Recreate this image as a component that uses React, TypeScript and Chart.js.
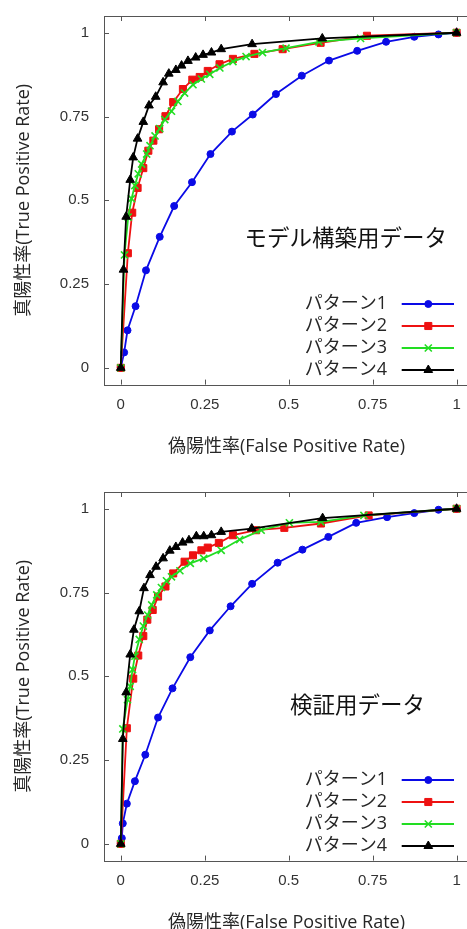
import React, { useEffect, useRef } from "react";
import { Chart, registerables } from "chart.js";
import { drawPoint } from "chart.js/helpers";

Chart.register(...registerables);

// ---------- text ----------
const seriesNames = ["パターン1", "パターン2", "パターン3", "パターン4"];
const xTitle = "偽陽性率(False Positive Rate)";
const yTitle = "真陽性率(True Positive Rate)";
const panelTitles = ["モデル構築用データ", "検証用データ"];

// ---------- ticks ----------
const xTicks = [0, 0.25, 0.5, 0.75, 1];
const yTicks = [0, 0.25, 0.5, 0.75, 1];

// ---------- panel 1: モデル構築用データ ----------
const p1Pattern1X = [0, 0.010, 0.020, 0.044, 0.075, 0.116, 0.159, 0.212, 0.267, 0.331, 0.393, 0.462, 0.539, 0.620, 0.704, 0.790, 0.874, 0.946, 1];
const p1Pattern1Y = [0, 0.046, 0.112, 0.184, 0.291, 0.391, 0.483, 0.554, 0.638, 0.705, 0.756, 0.817, 0.872, 0.917, 0.946, 0.973, 0.988, 0.995, 1];

const p1Pattern2X = [0, 0.021, 0.034, 0.050, 0.067, 0.082, 0.097, 0.114, 0.133, 0.156, 0.185, 0.213, 0.235, 0.259, 0.294, 0.334, 0.398, 0.482, 0.595, 0.733, 1];
const p1Pattern2Y = [0, 0.342, 0.463, 0.537, 0.596, 0.648, 0.678, 0.712, 0.751, 0.793, 0.832, 0.860, 0.868, 0.886, 0.906, 0.922, 0.937, 0.951, 0.970, 0.991, 1];

const p1Pattern3X = [0, 0.011, 0.022, 0.032, 0.042, 0.052, 0.062, 0.077, 0.087, 0.102, 0.116, 0.131, 0.151, 0.170, 0.190, 0.215, 0.240, 0.265, 0.295, 0.334, 0.373, 0.422, 0.492, 0.590, 0.714, 1];
const p1Pattern3Y = [0, 0.337, 0.450, 0.505, 0.544, 0.579, 0.608, 0.638, 0.663, 0.692, 0.714, 0.741, 0.766, 0.795, 0.820, 0.845, 0.862, 0.876, 0.895, 0.914, 0.929, 0.941, 0.954, 0.973, 0.983, 1];

const p1Pattern4X = [0, 0.008, 0.016, 0.028, 0.037, 0.050, 0.067, 0.084, 0.104, 0.126, 0.143, 0.164, 0.181, 0.200, 0.223, 0.245, 0.270, 0.299, 0.391, 0.600, 1];
const p1Pattern4Y = [0, 0.293, 0.451, 0.561, 0.628, 0.684, 0.734, 0.783, 0.809, 0.852, 0.878, 0.889, 0.902, 0.916, 0.926, 0.934, 0.941, 0.951, 0.966, 0.983, 1];

// ---------- panel 2: 検証用データ ----------
const p2Pattern1X = [0, 0.003, 0.006, 0.018, 0.042, 0.073, 0.111, 0.154, 0.207, 0.265, 0.327, 0.391, 0.467, 0.541, 0.618, 0.701, 0.793, 0.874, 0.946, 1];
const p2Pattern1Y = [0, 0.017, 0.061, 0.120, 0.187, 0.266, 0.377, 0.464, 0.557, 0.637, 0.709, 0.776, 0.839, 0.878, 0.916, 0.958, 0.975, 0.987, 0.997, 1];

const p2Pattern2X = [0, 0.018, 0.037, 0.052, 0.067, 0.079, 0.095, 0.111, 0.133, 0.156, 0.190, 0.215, 0.240, 0.259, 0.292, 0.334, 0.403, 0.487, 0.596, 0.738, 1];
const p2Pattern2Y = [0, 0.345, 0.493, 0.562, 0.620, 0.669, 0.698, 0.738, 0.768, 0.807, 0.842, 0.861, 0.876, 0.884, 0.898, 0.921, 0.936, 0.943, 0.956, 0.980, 1];

const p2Pattern3X = [0, 0.006, 0.020, 0.028, 0.035, 0.042, 0.055, 0.067, 0.080, 0.092, 0.107, 0.121, 0.136, 0.151, 0.176, 0.207, 0.247, 0.299, 0.354, 0.418, 0.502, 0.596, 0.724, 1];
const p2Pattern3Y = [0, 0.343, 0.430, 0.470, 0.520, 0.560, 0.610, 0.650, 0.683, 0.713, 0.743, 0.765, 0.785, 0.797, 0.815, 0.837, 0.852, 0.876, 0.908, 0.936, 0.958, 0.961, 0.980, 1];

const p2Pattern4X = [0, 0.006, 0.016, 0.028, 0.039, 0.055, 0.069, 0.087, 0.105, 0.126, 0.146, 0.164, 0.184, 0.203, 0.225, 0.247, 0.270, 0.299, 0.390, 0.601, 1];
const p2Pattern4Y = [0, 0.313, 0.452, 0.565, 0.639, 0.694, 0.763, 0.802, 0.827, 0.852, 0.875, 0.886, 0.899, 0.906, 0.918, 0.918, 0.921, 0.931, 0.941, 0.972, 1];

const panel1 = [
  { x: p1Pattern1X, y: p1Pattern1Y },
  { x: p1Pattern2X, y: p1Pattern2Y },
  { x: p1Pattern3X, y: p1Pattern3Y },
  { x: p1Pattern4X, y: p1Pattern4Y },
];
const panel2 = [
  { x: p2Pattern1X, y: p2Pattern1Y },
  { x: p2Pattern2X, y: p2Pattern2Y },
  { x: p2Pattern3X, y: p2Pattern3Y },
  { x: p2Pattern4X, y: p2Pattern4Y },
];

// ---------- styles ----------
const TEXT_FONT = '"Open Sans", "Noto Sans CJK JP", sans-serif';
const TICK_FONT = '"Liberation Sans", Arial, sans-serif';
const FRAME_COLOR = "#555555";
const TEXT_COLOR = "#262626";

const seriesStyles = [
  { color: "#0a0ae6", pointStyle: "circle", radius: 3.5, order: 3, lineWidth: 1.8, pointBorderWidth: 1 },
  { color: "#ee1111", pointStyle: "rect", radius: 5, order: 2, lineWidth: 1.8, pointBorderWidth: 1 },
  { color: "#22dd22", pointStyle: "crossRot", radius: 5, order: 1, lineWidth: 1.8, pointBorderWidth: 1.6 },
  { color: "#000000", pointStyle: "triangle", radius: 5, order: 0, lineWidth: 1.8, pointBorderWidth: 1 },
];

const CANVAS_W = 480;
const PLOT_TOP = 13;
const PLOT_H = 371.6;
const PLOT_LEFT = 104;
const PLOT_RIGHT = 475.4;

type PanelProps = {
  series: { x: number[]; y: number[] }[];
  title: string;
  titleX: number;
  titleY: number;
  height: number;
};

function RocPanel({ series, title, titleX, titleY, height }: PanelProps) {
  const ref = useRef<HTMLCanvasElement>(null);

  useEffect(() => {
    const canvas = ref.current;
    if (!canvas) return;

    const datasets = series.map((s, i) => {
      const st = seriesStyles[i];
      return {
        label: seriesNames[i],
        data: s.x.map((x, j) => ({ x, y: s.y[j] })),
        showLine: true,
        borderColor: st.color,
        backgroundColor: st.color,
        pointBackgroundColor: st.color,
        pointBorderColor: st.color,
        pointStyle: st.pointStyle as any,
        pointRadius: st.radius,
        pointBorderWidth: st.pointBorderWidth,
        borderWidth: st.lineWidth,
        order: st.order,
        tension: 0,
        clip: false as any,
      };
    });

    const framePlugin = {
      id: "gnuplotFrame",
      afterDatasetsDraw(chart: any) {
        const { ctx, chartArea } = chart;
        const { left, right, top, bottom } = chartArea;
        const xs = chart.scales.x;
        const ys = chart.scales.y;
        ctx.save();
        // frame
        ctx.strokeStyle = FRAME_COLOR;
        ctx.lineWidth = 1;
        ctx.strokeRect(Math.round(left) + 0.5, Math.round(top) + 0.5, Math.round(right - left), Math.round(bottom - top));
        // inward ticks
        const TL = 5;
        ctx.beginPath();
        xTicks.forEach((v) => {
          const px = Math.round(xs.getPixelForValue(v)) + 0.5;
          ctx.moveTo(px, bottom);
          ctx.lineTo(px, bottom - TL);
          ctx.moveTo(px, top);
          ctx.lineTo(px, top + TL);
        });
        yTicks.forEach((v) => {
          const py = Math.round(ys.getPixelForValue(v)) + 0.5;
          ctx.moveTo(left, py);
          ctx.lineTo(left + TL, py);
          ctx.moveTo(right, py);
          ctx.lineTo(right - TL, py);
        });
        ctx.stroke();

        // axis titles
        ctx.fillStyle = TEXT_COLOR;
        ctx.font = `18px ${TEXT_FONT}`;
        ctx.textAlign = "center";
        ctx.textBaseline = "middle";
        ctx.fillText(xTitle, 286.5, bottom + 62);
        ctx.save();
        ctx.translate(24, (top + bottom) / 2);
        ctx.rotate(-Math.PI / 2);
        ctx.fillText(yTitle, 0, 0);
        ctx.restore();

        // panel title
        ctx.fillStyle = "#111111";
        ctx.font = `22.5px ${TEXT_FONT}`;
        ctx.fillText(title, titleX, titleY);

        // legend (right-aligned text, sample line with marker)
        const rowOffsets = [80.6, 58.6, 36.6, 14.6];
        chart.data.datasets.forEach((ds: any, i: number) => {
          const y = bottom - rowOffsets[i];
          ctx.fillStyle = TEXT_COLOR;
          ctx.font = `18px ${TEXT_FONT}`;
          ctx.textAlign = "right";
          ctx.textBaseline = "middle";
          ctx.fillText(ds.label, 387, y);
          ctx.strokeStyle = ds.borderColor;
          ctx.lineWidth = ds.borderWidth;
          ctx.beginPath();
          ctx.moveTo(401.7, y);
          ctx.lineTo(454, y);
          ctx.stroke();
          ctx.fillStyle = ds.pointBackgroundColor;
          ctx.strokeStyle = ds.pointBorderColor;
          ctx.lineWidth = ds.pointBorderWidth;
          drawPoint(ctx, { pointStyle: ds.pointStyle, radius: ds.pointRadius, rotation: 0, borderWidth: ds.pointBorderWidth } as any, 428.3, y);
        });
        ctx.restore();
      },
    };

    const chart = new Chart(canvas, {
      type: "scatter",
      data: { datasets: datasets as any },
      options: {
        responsive: false,
        animation: false,
        devicePixelRatio: 1,
        layout: { padding: { top: PLOT_TOP, left: 0, right: CANVAS_W - PLOT_RIGHT, bottom: 0 } },
        plugins: {
          legend: { display: false },
          tooltip: { enabled: false },
          title: { display: false },
        },
        scales: {
          x: {
            type: "linear",
            min: -0.05,
            max: 1.05,
            grid: { display: false },
            border: { display: false },
            afterBuildTicks: (s: any) => {
              s.ticks = xTicks.map((v) => ({ value: v }));
            },
            afterFit: (s: any) => {
              s.height = height - (PLOT_TOP + PLOT_H);
            },
            ticks: {
              padding: 3,
              color: "#333333",
              font: { family: TICK_FONT, size: 15 },
              maxRotation: 0,
              autoSkip: false,
              callback: (v: any) => String(v),
            },
          },
          y: {
            type: "linear",
            min: -0.05,
            max: 1.05,
            grid: { display: false },
            border: { display: false },
            afterBuildTicks: (s: any) => {
              s.ticks = yTicks.map((v) => ({ value: v }));
            },
            afterFit: (s: any) => {
              s.width = PLOT_LEFT;
            },
            ticks: {
              padding: 7,
              color: "#333333",
              font: { family: TICK_FONT, size: 15 },
              autoSkip: false,
              callback: (v: any) => String(v),
            },
          },
        },
      } as any,
      plugins: [framePlugin],
    });

    return () => chart.destroy();
  }, [series, title, titleX, titleY, height]);

  return (
    <canvas
      ref={ref}
      width={CANVAS_W}
      height={height}
      style={{ display: "block", width: CANVAS_W, height }}
    />
  );
}

export default function App() {
  return (
    <div
      style={{
        position: "absolute",
        left: 0,
        top: 0,
        width: 467,
        height: 929,
        overflow: "hidden",
        background: "#ffffff",
      }}
    >
      <div style={{ position: "absolute", left: 0, top: 0 }}>
        <RocPanel series={panel1} title={panelTitles[0]} titleX={345.7} titleY={240} height={476} />
      </div>
      <div style={{ position: "absolute", left: 0, top: 476 }}>
        <RocPanel series={panel2} title={panelTitles[1]} titleX={357.5} titleY={230.7} height={453} />
      </div>
    </div>
  );
}
